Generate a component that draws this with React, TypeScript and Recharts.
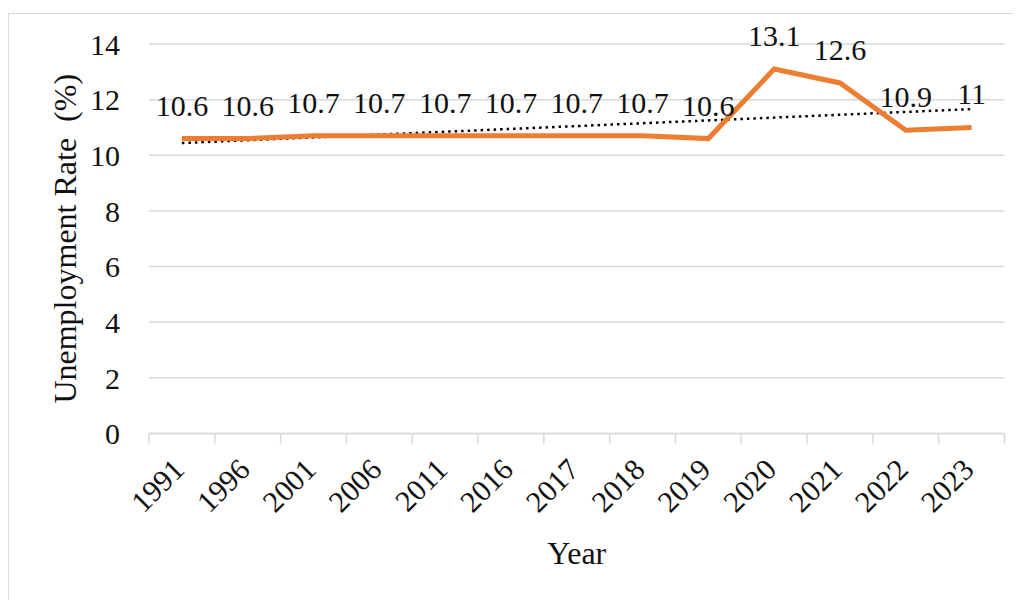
import { CartesianGrid, LabelList, Line, LineChart, XAxis, YAxis } from "recharts";

const years = ["1991", "1996", "2001", "2006", "2011", "2016", "2017", "2018", "2019", "2020", "2021", "2022", "2023"];
const unemployment = [10.6, 10.6, 10.7, 10.7, 10.7, 10.7, 10.7, 10.7, 10.6, 13.1, 12.6, 10.9, 11];
// linear trendline, read at its two ends
const trendStart = 10.44;
const trendEnd = 11.66;
const yTicks = [0, 2, 4, 6, 8, 10, 12, 14];

const data = years.map((year, i) => ({
  year,
  rate: unemployment[i],
  trend: i === 0 ? trendStart : i === years.length - 1 ? trendEnd : null,
}));

const FONT = "'Times New Roman', 'Liberation Serif', serif";
const W = 1013;
const H = 587;
const MARGIN = { top: 30, right: 17.5, bottom: 47.5, left: 40 };
const Y_AXIS_W = 100;
const X_AXIS_H = 120;
const STEP = (W - MARGIN.left - MARGIN.right - Y_AXIS_W) / years.length;

function YearTick(props: any) {
  const { x, y, payload, index } = props;
  const left = x - STEP / 2;
  const tx = x + 4;
  const ty = y + 38;
  return (
    <g>
      <line x1={left} y1={y} x2={left} y2={y + 10} stroke="#d9d9d9" strokeWidth={1.5} />
      {index === years.length - 1 && (
        <line x1={x + STEP / 2} y1={y} x2={x + STEP / 2} y2={y + 10} stroke="#d9d9d9" strokeWidth={1.5} />
      )}
      <text
        x={tx}
        y={ty}
        transform={`rotate(-45 ${tx} ${ty})`}
        textAnchor="end"
        style={{ fontFamily: FONT, fontSize: 30 }}
        fill="#111"
      >
        {payload.value}
      </text>
    </g>
  );
}

export default function App() {
  return (
    <div
      style={{
        width: 1020,
        height: 600,
        marginTop: 5,
        border: "1.5px solid #d9d9d9",
        boxSizing: "border-box",
        background: "#fff",
        fontFamily: FONT,
      }}
    >
      <LineChart width={W} height={H} data={data} margin={MARGIN} style={{ fontFamily: FONT }}>
        <CartesianGrid vertical={false} stroke="#d9d9d9" strokeWidth={1.5} />
        <XAxis
          dataKey="year"
          height={X_AXIS_H}
          interval={0}
          padding={{ left: STEP / 2, right: STEP / 2 }}
          tickLine={false}
          tickSize={0}
          tickMargin={0}
          axisLine={{ stroke: "#d9d9d9", strokeWidth: 1.5 }}
          tick={<YearTick />}
          label={{
            content: (p: any) => {
              const vb = p.viewBox;
              return (
                <text
                  x={vb.x + vb.width / 2}
                  y={vb.y + 119}
                  textAnchor="middle"
                  dominantBaseline="central"
                  style={{ fontFamily: FONT, fontSize: 32 }}
                  fill="#111"
                >
                  Year
                </text>
              );
            },
          }}
        />
        <YAxis
          width={Y_AXIS_W}
          domain={[0, 14]}
          ticks={yTicks}
          axisLine={false}
          tickLine={false}
          tickSize={0}
          tickMargin={29}
          tick={{ fontSize: 30, fill: "#111", style: { fontFamily: FONT } }}
          label={{
            content: (p: any) => {
              const vb = p.viewBox;
              const cx = vb.x + 15.5;
              const cy = vb.y + vb.height / 2;
              return (
                <text
                  x={cx}
                  y={cy}
                  transform={`rotate(-90 ${cx} ${cy})`}
                  textAnchor="middle"
                  dominantBaseline="central"
                  style={{ fontFamily: FONT, fontSize: 32 }}
                  fill="#111"
                >
                  {"Unemployment Rate \u00a0(%)"}
                </text>
              );
            },
          }}
        />
        <Line
          dataKey="trend"
          connectNulls
          stroke="#000"
          strokeWidth={2.5}
          strokeDasharray="2.5 4"
          dot={false}
          activeDot={false}
          isAnimationActive={false}
        />
        <Line
          dataKey="rate"
          stroke="#ED7D31"
          strokeWidth={5}
          dot={false}
          activeDot={false}
          isAnimationActive={false}
        >
          <LabelList
            dataKey="rate"
            position="top"
            offset={23}
            fontSize={30}
            fill="#111"
            style={{ fontFamily: FONT }}
          />
        </Line>
      </LineChart>
    </div>
  );
}
